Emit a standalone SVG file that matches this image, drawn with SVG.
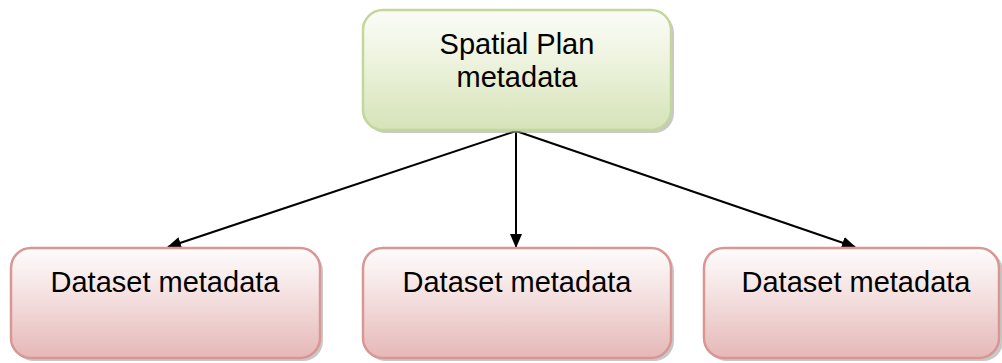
<svg xmlns="http://www.w3.org/2000/svg" width="1002" height="363" viewBox="0 0 1002 363">
<defs>
<linearGradient id="gGreen" x1="0" y1="0" x2="0" y2="1">
<stop offset="0" stop-color="#fbfcf7"/>
<stop offset="0.35" stop-color="#f0f5e3"/>
<stop offset="1" stop-color="#d5e3b8"/>
</linearGradient>
<linearGradient id="gRed" x1="0" y1="0" x2="0" y2="1">
<stop offset="0" stop-color="#fefcfc"/>
<stop offset="0.35" stop-color="#f6e6e6"/>
<stop offset="1" stop-color="#e5b8b7"/>
</linearGradient>
<marker id="arr" markerWidth="14" markerHeight="12" refX="13" refY="6" orient="auto" markerUnits="userSpaceOnUse" viewBox="0 0 14 12">
<path d="M0,0 L14,6 L0,12 z" fill="#000"/>
</marker>
<style>
.shadow{fill:#9a9a9a;opacity:0.55}
.green{fill:url(#gGreen);stroke:#c3d69b;stroke-width:2.5}
.red{fill:url(#gRed);stroke:#d99694;stroke-width:2.5}
.lbl{font-family:"Liberation Sans",Arial,sans-serif;font-size:29px;fill:#000;text-anchor:middle}
.conn{stroke:#000;stroke-width:2;fill:none;marker-end:url(#arr)}
</style>
</defs>
<g id="connectors">
<line class="conn" x1="516" y1="131" x2="168" y2="247"/>
<line class="conn" x1="516" y1="131" x2="516" y2="247"/>
<line class="conn" x1="516" y1="131" x2="855" y2="247"/>
</g>
<g id="node-spatial-plan">
<rect class="shadow" x="366" y="13" width="308" height="120" rx="20"/>
<rect class="green" x="363" y="10" width="308" height="120" rx="20"/>
<text class="lbl" x="517" y="54">Spatial Plan</text>
<text class="lbl" x="517" y="87">metadata</text>
</g>
<g id="node-dataset-1">
<rect class="shadow" x="14" y="251" width="309" height="110" rx="20"/>
<rect class="red" x="11" y="248" width="309" height="110" rx="20"/>
<text class="lbl" x="165" y="292">Dataset metadata</text>
</g>
<g id="node-dataset-2">
<rect class="shadow" x="366" y="251" width="308" height="110" rx="20"/>
<rect class="red" x="363" y="248" width="308" height="110" rx="20"/>
<text class="lbl" x="517" y="292">Dataset metadata</text>
</g>
<g id="node-dataset-3">
<rect class="shadow" x="707" y="251" width="296" height="110" rx="20"/>
<rect class="red" x="704" y="248" width="295" height="110" rx="20"/>
<text class="lbl" x="856" y="292">Dataset metadata</text>
</g>
</svg>
